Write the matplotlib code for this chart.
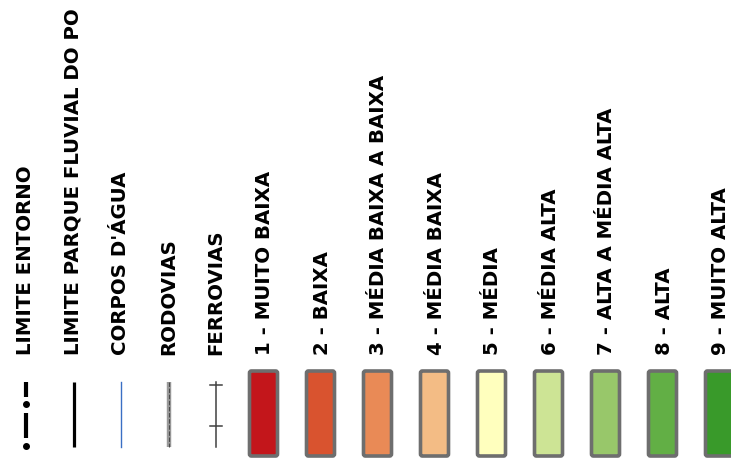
import matplotlib.pyplot as plt
from matplotlib.patches import FancyBboxPatch

# legenda - feicoes de referencia
ref_labels = ['LIMITE ENTORNO', 'LIMITE PARQUE FLUVIAL DO PO', "CORPOS D'ÁGUA",
              'RODOVIAS', 'FERROVIAS']

# legenda - classes
class_labels = ['1 - MUITO BAIXA', '2 - BAIXA', '3 - MÉDIA BAIXA A BAIXA',
                '4 - MÉDIA BAIXA', '5 - MÉDIA', '6 - MÉDIA ALTA',
                '7 - ALTA A MÉDIA ALTA', '8 - ALTA', '9 - MUITO ALTA']
class_colors = ['#C3161B', '#D9532F', '#E98A56', '#F3BC85', '#FFFFBE',
                '#CDE495', '#98C76A', '#62AF45', '#399A2A']

W, H = 731, 461
fig = plt.figure(figsize=(W / 100, H / 100), dpi=100)
ax = fig.add_axes([0, 0, 1, 1])
ax.set_xlim(0, W)
ax.set_ylim(H, 0)
ax.axis('off')

txt_kw = dict(rotation=90, ha='center', va='bottom', fontsize=14.2,
              fontweight='bold', color='black', family='DejaVu Sans')
text_base = 355

## __REFERENCIAS__________________________
ref_x0, ref_dx = 26, 47.5
y0, y1 = 382, 447
for i, lab in enumerate(ref_labels):
    x = ref_x0 + i * ref_dx
    ax.text(x, text_base, lab, **txt_kw)

# limite entorno: traco-ponto
x = ref_x0
ax.plot([x, x], [y0, y0 + 15], color='black', lw=3, solid_capstyle='butt')
ax.plot([x, x], [y0 + 31, y0 + 56], color='black', lw=3, solid_capstyle='butt')
ax.plot([x, x], [y0 + 22, y0 + 64], 'o', color='black', ms=4)
# limite parque
x = ref_x0 + ref_dx
ax.plot([x, x], [y0, y1], color='black', lw=2.3, solid_capstyle='butt')
# corpos d'agua
x = ref_x0 + 2 * ref_dx
ax.plot([x, x], [y0, y1], color='#3A6FC4', lw=1.0)
# rodovias
x = ref_x0 + 3 * ref_dx
ax.plot([x, x], [y0, y1], color='#9A9A9A', lw=3.2, solid_capstyle='butt')
ax.plot([x, x], [y0, y1], color='#4A4A4A', lw=0.8, ls=(0, (4, 1.5)))
# ferrovias
x = ref_x0 + 4 * ref_dx
ax.plot([x, x], [y0, y1], color='#404040', lw=1.1)
for yt in (385, 426):
    ax.plot([x - 6, x + 6], [yt, yt], color='#404040', lw=1.1)

## __CLASSES__________________________
cls_x0, cls_dx = 263.5, 57
sw_w, sw_top, sw_bot = 28, 371, 456
for i, (lab, col) in enumerate(zip(class_labels, class_colors)):
    x = cls_x0 + i * cls_dx
    ax.text(x + 1.5, text_base, lab, **txt_kw)
    box = FancyBboxPatch((x - sw_w / 2, sw_top), sw_w, sw_bot - sw_top,
                         boxstyle='round,pad=0,rounding_size=2',
                         facecolor=col, edgecolor='#6E6E6E', lw=2.6)
    ax.add_patch(box)

fig.savefig('out.png', dpi=100)
